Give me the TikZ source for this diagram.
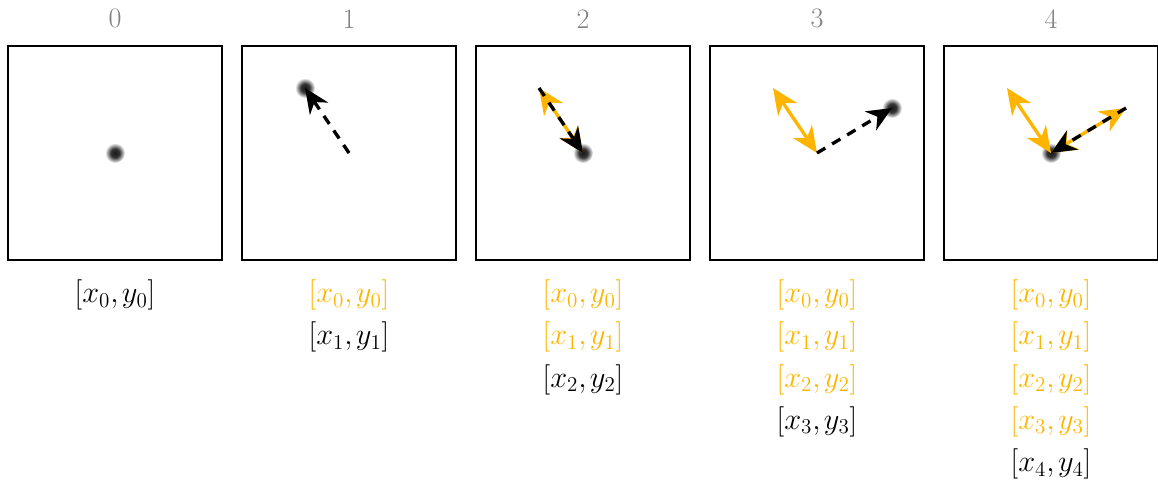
\documentclass[tikz,border=0pt]{standalone}
\usepackage{tikz}
\usetikzlibrary{positioning, arrows.meta, calc}
\usepackage{xcolor}
\definecolor{amber}{RGB}{255,181,0}
\pgfdeclareradialshading{blur}{\pgfpoint{0bp}{0bp}}{color(0bp)=(black!90); color(11bp)=(black!80); color(25bp)=(white); color(50bp)=(white)}
\newcommand{\pt}[1]{$[x_#1{,}\mkern2mu y_#1]$}

\begin{document}
\begin{tikzpicture}[
        node distance=0.4cm,
        frame/.style={draw, line width=1.1pt, minimum size=4.28cm,
                      inner sep=0pt, outer sep=0pt},
        stage/.style={text=black!50, font=\fontsize{16}{18}\selectfont,
                      inner sep=0pt, outer sep=0pt},
        coords/.style={align=center, font=\fontsize{18}{24}\selectfont,
                       inner sep=0pt, outer sep=0pt},
        blob/.style={circle, minimum size=0.4cm, inner sep=0pt, shade, shading=blur},
        jump/.style={-{Stealth[length=5mm, width=4.4mm, inset=1.6mm]}, line width=1.9pt,
                     dash pattern=on 5.5pt off 4.5pt},
        trail/.style={{Stealth[length=5.2mm, width=4.6mm, inset=1.6mm]}-{Stealth[length=5.2mm, width=4.6mm, inset=1.6mm]},
                      amber, line width=1.9pt},
    ]
        \useasboundingbox (0,0) rectangle (23.16,-9.72);

        \node[frame] (b0) at (2.30,-3.06) {};
        \node[frame, right=of b0] (b1) {};
        \node[frame, right=of b1] (b2) {};
        \node[frame, right=of b2] (b3) {};
        \node[frame, right=of b3] (b4) {};

        \node[stage, above=0.36cm of b0] (n0) {0};
        \node[stage, above=0.36cm of b1] (n1) {1};
        \node[stage, above=0.36cm of b2] (n2) {2};
        \node[stage, above=0.36cm of b3] (n3) {3};
        \node[stage, above=0.36cm of b4] (n4) {4};

        \node[coords, below=of b0] (t0) {\pt{0}};
        \node[coords, below=of b1] (t1)
            {\textcolor{amber}{\pt{0}}\\ \pt{1}};
        \node[coords, below=of b2] (t2)
            {\textcolor{amber}{\pt{0}}\\ \textcolor{amber}{\pt{1}}\\ \pt{2}};
        \node[coords, below=of b3] (t3)
            {\textcolor{amber}{\pt{0}}\\ \textcolor{amber}{\pt{1}}\\
             \textcolor{amber}{\pt{2}}\\ \pt{3}};
        \node[coords, below=of b4] (t4)
            {\textcolor{amber}{\pt{0}}\\ \textcolor{amber}{\pt{1}}\\
             \textcolor{amber}{\pt{2}}\\ \textcolor{amber}{\pt{3}}\\ \pt{4}};

        \coordinate (u1) at ($(b1.center)+(-0.88,1.30)$);
        \coordinate (u2) at ($(b2.center)+(-0.88,1.30)$);
        \coordinate (u3) at ($(b3.center)+(-0.88,1.30)$);
        \coordinate (w3) at ($(b3.center)+(1.50,0.90)$);
        \coordinate (u4) at ($(b4.center)+(-0.88,1.30)$);
        \coordinate (w4) at ($(b4.center)+(1.50,0.90)$);

        \node[blob] (d0) at (b0.center) {};
        \node[blob] (d1) at (u1) {};
        \node[blob] (d2) at (b2.center) {};
        \node[blob] (d3) at (w3) {};
        \node[blob] (d4) at (b4.center) {};

        \draw[jump] (b1.center) -- (d1.center);
        \draw[trail] (b2.center) -- (u2);
        \draw[jump] (u2) -- (d2.center);
        \draw[trail] (b3.center) -- (u3);
        \draw[jump] (b3.center) -- (d3.center);
        \draw[trail] (b4.center) -- (u4);
        \draw[trail] (b4.center) -- (w4);
        \draw[jump] (w4) -- (d4.center);
    \end{tikzpicture}
\end{document}
